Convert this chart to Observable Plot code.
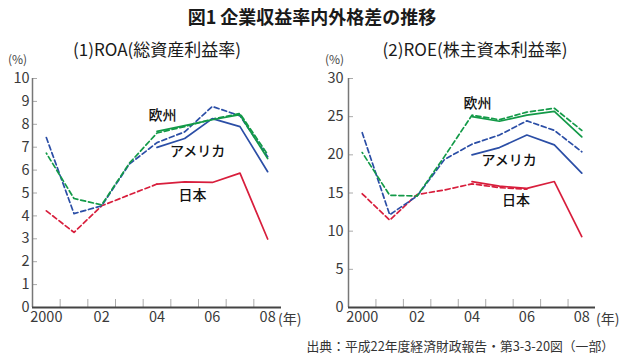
<!DOCTYPE html>
<html><head><meta charset="utf-8">
<script src="https://cdn.jsdelivr.net/npm/d3@7"></script>
<script src="https://cdn.jsdelivr.net/npm/@observablehq/plot@0.6"></script>
<style>
body{margin:0;background:#fff;}
#root{position:relative;width:620px;height:360px;overflow:hidden;font-family:"Noto Sans CJK JP","Noto Sans",sans-serif;color:#222;}
.t{position:absolute;white-space:nowrap;}
.p{position:absolute;}
</style></head><body><div id="root"></div>
<script>
// ---- data ----
const years = [2000, 2001, 2002, 2003, 2004, 2005, 2006, 2007, 2008];
const yearsJpRoaOld = [2000, 2001, 2002, 2003, 2004];
const yearsJpRoeOld = [2000, 2001, 2002, 2003, 2004, 2005, 2006];
const yearsNew = [2004, 2005, 2006, 2007, 2008];
const tickYears = [2000, 2002, 2004, 2006, 2008];
const tickLabels = ["2000", "02", "04", "06", "08"];
const regions = ["日本", "アメリカ", "欧州"];

// ROA (%)
const roaJapanOld = [4.22, 3.28, 4.44, 4.92, 5.39];
const roaJapanNew = [5.39, 5.49, 5.46, 5.87, 2.99];
const roaUSOld = [7.42, 4.10, 4.44, 6.26, 7.20, 7.67, 8.78, 8.37, 6.58];
const roaUSNew = [6.99, 7.38, 8.25, 7.90, 5.93];
const roaEUOld = [6.74, 4.76, 4.48, 6.30, 7.62, 7.90, 8.23, 8.47, 6.68];
const roaEUNew = [7.69, 7.94, 8.20, 8.42, 6.50];

// ROE (%)
const roeJapanOld = [14.9, 11.45, 14.8, 15.4, 16.2, 15.7, 15.5];
const roeJapanNew = [16.5, 15.9, 15.6, 16.5, 9.3];
const roeUSOld = [22.9, 12.15, 14.6, 19.4, 21.4, 22.6, 24.45, 23.2, 20.4];
const roeUSNew = [20.0, 20.95, 22.6, 21.3, 17.6];
const roeEUOld = [20.3, 14.7, 14.6, 19.8, 25.2, 24.6, 25.6, 26.1, 23.2];
const roeEUNew = [25.0, 24.4, 25.2, 25.7, 22.35];

// ---- rendering ----
const colors = {"日本": "#d81e3c", "アメリカ": "#2b4ea6", "欧州": "#139a48"};
const xDomain = [1999.5, 2008.5];
const boundaries = d3.range(2000.5, 2008, 1);
const fontFamily = '"Noto Sans CJK JP","Noto Sans",sans-serif';

function rows(ys, vs) { return ys.map((yr, i) => ({year: yr, value: vs[i]})); }

function panel({yMax, yStep, series, labels, width, marginRight, tickPadding}) {
  const yTicks = d3.range(0, yMax + 0.001, yStep);
  const marks = [];
  // tick marks (inside)
  marks.push(Plot.ruleX(boundaries, {x: d => d, y1: 0, y2: 0, insetTop: -8, stroke: "#aaa", strokeWidth: 1}));
  marks.push(Plot.ruleY(yTicks.slice(1), {y: d => d, x1: xDomain[0], x2: xDomain[0], insetRight: -5, stroke: "#aaa", strokeWidth: 1}));
  // series
  for (const s of series) {
    marks.push(Plot.line(rows(s.years, s.values), {
      x: "year", y: "value", stroke: colors[s.region], strokeWidth: 1.7,
      strokeDasharray: s.dashed ? "5,3" : null,
      strokeDashoffset: s.offset || 0
    }));
  }
  // axis lines
  marks.push(Plot.ruleX([xDomain[0]], {stroke: "#777", strokeWidth: 1.5}));
  marks.push(Plot.ruleY([0], {stroke: "#444", strokeWidth: 1.8}));
  // labels
  marks.push(Plot.text(labels, {x: "x", y: "y", text: "name", fontSize: 14, fill: "#111", fontWeight: 500}));
  return Plot.plot({
    width, height: 280,
    marginLeft: 32, marginRight, marginTop: 16, marginBottom: 35,
    style: {fontSize: "14.5px", fontFamily, color: "#3a3a3a", background: "transparent", overflow: "visible"},
    x: {domain: xDomain, ticks: tickYears, tickFormat: d => tickLabels[tickYears.indexOf(d)], tickSize: 0, tickPadding: 4, label: null},
    y: {domain: [0, yMax], ticks: yTicks, tickSize: 0, tickPadding, label: null},
    marks
  });
}

const roaSeries = [
  {region: "日本", dashed: true, years: yearsJpRoaOld, values: roaJapanOld},
  {region: "アメリカ", dashed: true, years: years, values: roaUSOld},
  {region: "欧州", dashed: true, years: years, values: roaEUOld, offset: 4},
  {region: "日本", dashed: false, years: yearsNew, values: roaJapanNew},
  {region: "アメリカ", dashed: false, years: yearsNew, values: roaUSNew},
  {region: "欧州", dashed: false, years: yearsNew, values: roaEUNew}
];
const roeSeries = [
  {region: "日本", dashed: true, years: yearsJpRoeOld, values: roeJapanOld},
  {region: "アメリカ", dashed: true, years: years, values: roeUSOld},
  {region: "欧州", dashed: true, years: years, values: roeEUOld, offset: 4},
  {region: "日本", dashed: false, years: yearsNew, values: roeJapanNew},
  {region: "アメリカ", dashed: false, years: yearsNew, values: roeUSNew},
  {region: "欧州", dashed: false, years: yearsNew, values: roeEUNew}
];
// label anchor placement (annotation layout)
const roaLabels = [
  {name: regions[2], x: 2004.2, y: 8.37},
  {name: regions[1], x: 2005.47, y: 6.81},
  {name: regions[0], x: 2005.28, y: 4.88}
];
const roeLabels = [
  {name: regions[2], x: 2004.2, y: 26.7},
  {name: regions[1], x: 2005.35, y: 19.2},
  {name: regions[0], x: 2005.6, y: 14.0}
];

const root = document.getElementById("root");
function addText(txt, css) {
  const d = document.createElement("div");
  d.className = "t";
  d.textContent = txt;
  Object.assign(d.style, css);
  root.appendChild(d);
}
const left = panel({yMax: 10, yStep: 1, series: roaSeries, labels: roaLabels, width: 310, marginRight: 29, tickPadding: 3});
const right = panel({yMax: 30, yStep: 5, series: roeSeries, labels: roeLabels, width: 304, marginRight: 25, tickPadding: 5});
const lw = document.createElement("div"); lw.className = "p"; lw.style.left = "0px"; lw.style.top = "62px"; lw.appendChild(left); root.appendChild(lw);
const rw = document.createElement("div"); rw.className = "p"; rw.style.left = "316px"; rw.style.top = "62px"; rw.appendChild(right); root.appendChild(rw);

addText("図1 企業収益率内外格差の推移", {left: "2px", width: "620px", textAlign: "center", top: "3px", fontSize: "18px", lineHeight: "26px", fontWeight: "700", color: "#1a1a1a"});
addText("(1)ROA(総資産利益率)", {left: "7px", width: "300px", textAlign: "center", top: "37px", fontSize: "17px", lineHeight: "24px", color: "#1a1a1a"});
addText("(2)ROE(株主資本利益率)", {left: "325px", width: "300px", textAlign: "center", top: "37px", fontSize: "17px", lineHeight: "24px", color: "#1a1a1a"});
addText("(%)", {left: "8px", top: "51px", fontSize: "12px", lineHeight: "16px", color: "#444"});
addText("(%)", {left: "325px", top: "51px", fontSize: "12px", lineHeight: "16px", color: "#444"});
addText("(年)", {left: "278px", top: "309px", fontSize: "14px", lineHeight: "18px", color: "#3a3a3a"});
addText("(年)", {left: "596px", top: "309px", fontSize: "14px", lineHeight: "18px", color: "#3a3a3a"});
addText("出典：平成22年度経済財政報告・第3-3-20図（一部）", {right: "6px", top: "337px", fontSize: "12.8px", lineHeight: "18px", color: "#333"});
</script></body></html>
